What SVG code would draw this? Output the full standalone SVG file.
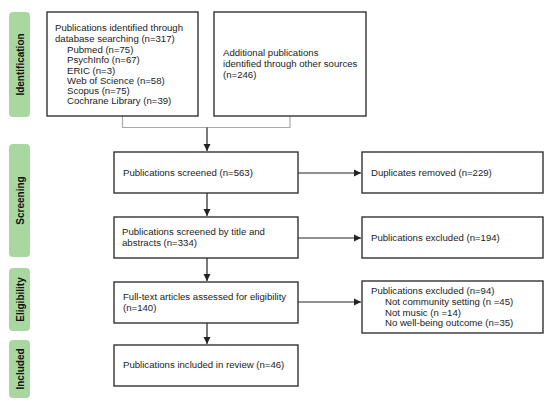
<svg xmlns="http://www.w3.org/2000/svg" width="550" height="403" viewBox="0 0 550 403">
<style>
.box{fill:#fff;stroke:#333;stroke-width:1.4}
.side{fill:#a8d8a0}
.t{font-family:"Liberation Sans",Arial,sans-serif;font-size:9.6px;fill:#222}
.lab{font-family:"Liberation Sans",Arial,sans-serif;font-size:10px;font-weight:bold;fill:#111;text-anchor:middle}
.c{stroke:#222;stroke-width:1.2;fill:none}
.g{stroke:#aaa;stroke-width:1.2;fill:none}
</style>
<defs>
<marker id="ah" markerWidth="8" markerHeight="8" refX="7" refY="4" orient="auto" markerUnits="userSpaceOnUse">
<path d="M0,0.5 L7,4 L0,7.5 z" fill="#222"/>
</marker>
</defs>
<rect width="550" height="403" fill="#fff"/>
<g id="phases">
<g id="ph-identification"><rect class="side" x="9" y="12" width="21" height="105" rx="4"/><text class="lab" transform="translate(23.5,64.5) rotate(-90)">Identification</text></g>
<g id="ph-screening"><rect class="side" x="9" y="144" width="21" height="113" rx="4"/><text class="lab" transform="translate(23.5,200.5) rotate(-90)">Screening</text></g>
<g id="ph-eligibility"><rect class="side" x="9" y="268" width="21" height="63" rx="4"/><text class="lab" transform="translate(23.5,299.5) rotate(-90)">Eligibility</text></g>
<g id="ph-included"><rect class="side" x="9" y="340" width="21" height="58" rx="4"/><text class="lab" transform="translate(23.5,369) rotate(-90)">Included</text></g>
</g>
<g id="connectors">
<polyline class="g" points="122.5,116 122.5,127.5 290,127.5 290,116"/>
<line class="c" x1="207" y1="127.5" x2="207" y2="151" marker-end="url(#ah)"/>
<line class="c" x1="298" y1="173" x2="361" y2="173" marker-end="url(#ah)"/>
<line class="c" x1="207" y1="193" x2="207" y2="216" marker-end="url(#ah)"/>
<line class="c" x1="298" y1="238" x2="361" y2="238" marker-end="url(#ah)"/>
<line class="c" x1="207" y1="258" x2="207" y2="281" marker-end="url(#ah)"/>
<line class="c" x1="298" y1="302" x2="361" y2="302" marker-end="url(#ah)"/>
<line class="c" x1="207" y1="323" x2="207" y2="344" marker-end="url(#ah)"/>
</g>
<g id="n-database">
<rect class="box" x="47" y="12" width="151" height="104"/>
<text class="t" x="55" y="31">Publications identified through</text>
<text class="t" x="55" y="42">database searching (n=317)</text>
<text class="t" x="67" y="53">Pubmed (n=75)</text>
<text class="t" x="67" y="63.3">PsychInfo (n=67)</text>
<text class="t" x="67" y="73.5">ERIC (n=3)</text>
<text class="t" x="67" y="83.7">Web of Science (n=58)</text>
<text class="t" x="67" y="94">Scopus (n=75)</text>
<text class="t" x="67" y="104.3">Cochrane Library (n=39)</text>
</g>
<g id="n-other">
<rect class="box" x="214" y="12" width="152" height="104"/>
<text class="t" x="223" y="56">Additional publications</text>
<text class="t" x="223" y="67">identified through other sources</text>
<text class="t" x="223" y="78">(n=246)</text>
</g>
<g id="n-screened">
<rect class="box" x="114" y="152" width="184" height="41"/>
<text class="t" x="123" y="176">Publications screened (n=563)</text>
</g>
<g id="n-duplicates">
<rect class="box" x="362" y="152" width="181" height="41"/>
<text class="t" x="371" y="176">Duplicates removed (n=229)</text>
</g>
<g id="n-title">
<rect class="box" x="114" y="217" width="184" height="41"/>
<text class="t" x="122" y="235">Publications screened by title and</text>
<text class="t" x="122" y="246">abstracts (n=334)</text>
</g>
<g id="n-excl1">
<rect class="box" x="362" y="217" width="181" height="41"/>
<text class="t" x="371" y="241">Publications excluded (n=194)</text>
</g>
<g id="n-fulltext">
<rect class="box" x="114" y="282" width="184" height="41"/>
<text class="t" x="123" y="300">Full-text articles assessed for eligibility</text>
<text class="t" x="123" y="311">(n=140)</text>
</g>
<g id="n-excl2">
<rect class="box" x="362" y="281" width="181" height="52"/>
<text class="t" x="371" y="294">Publications excluded (n=94)</text>
<text class="t" x="385" y="305">Not community setting (n =45)</text>
<text class="t" x="385" y="315.5">Not music (n =14)</text>
<text class="t" x="385" y="326">No well-being outcome (n=35)</text>
</g>
<g id="n-included">
<rect class="box" x="114" y="345" width="184" height="41"/>
<text class="t" x="123" y="368">Publications included in review (n=46)</text>
</g>
</svg>
